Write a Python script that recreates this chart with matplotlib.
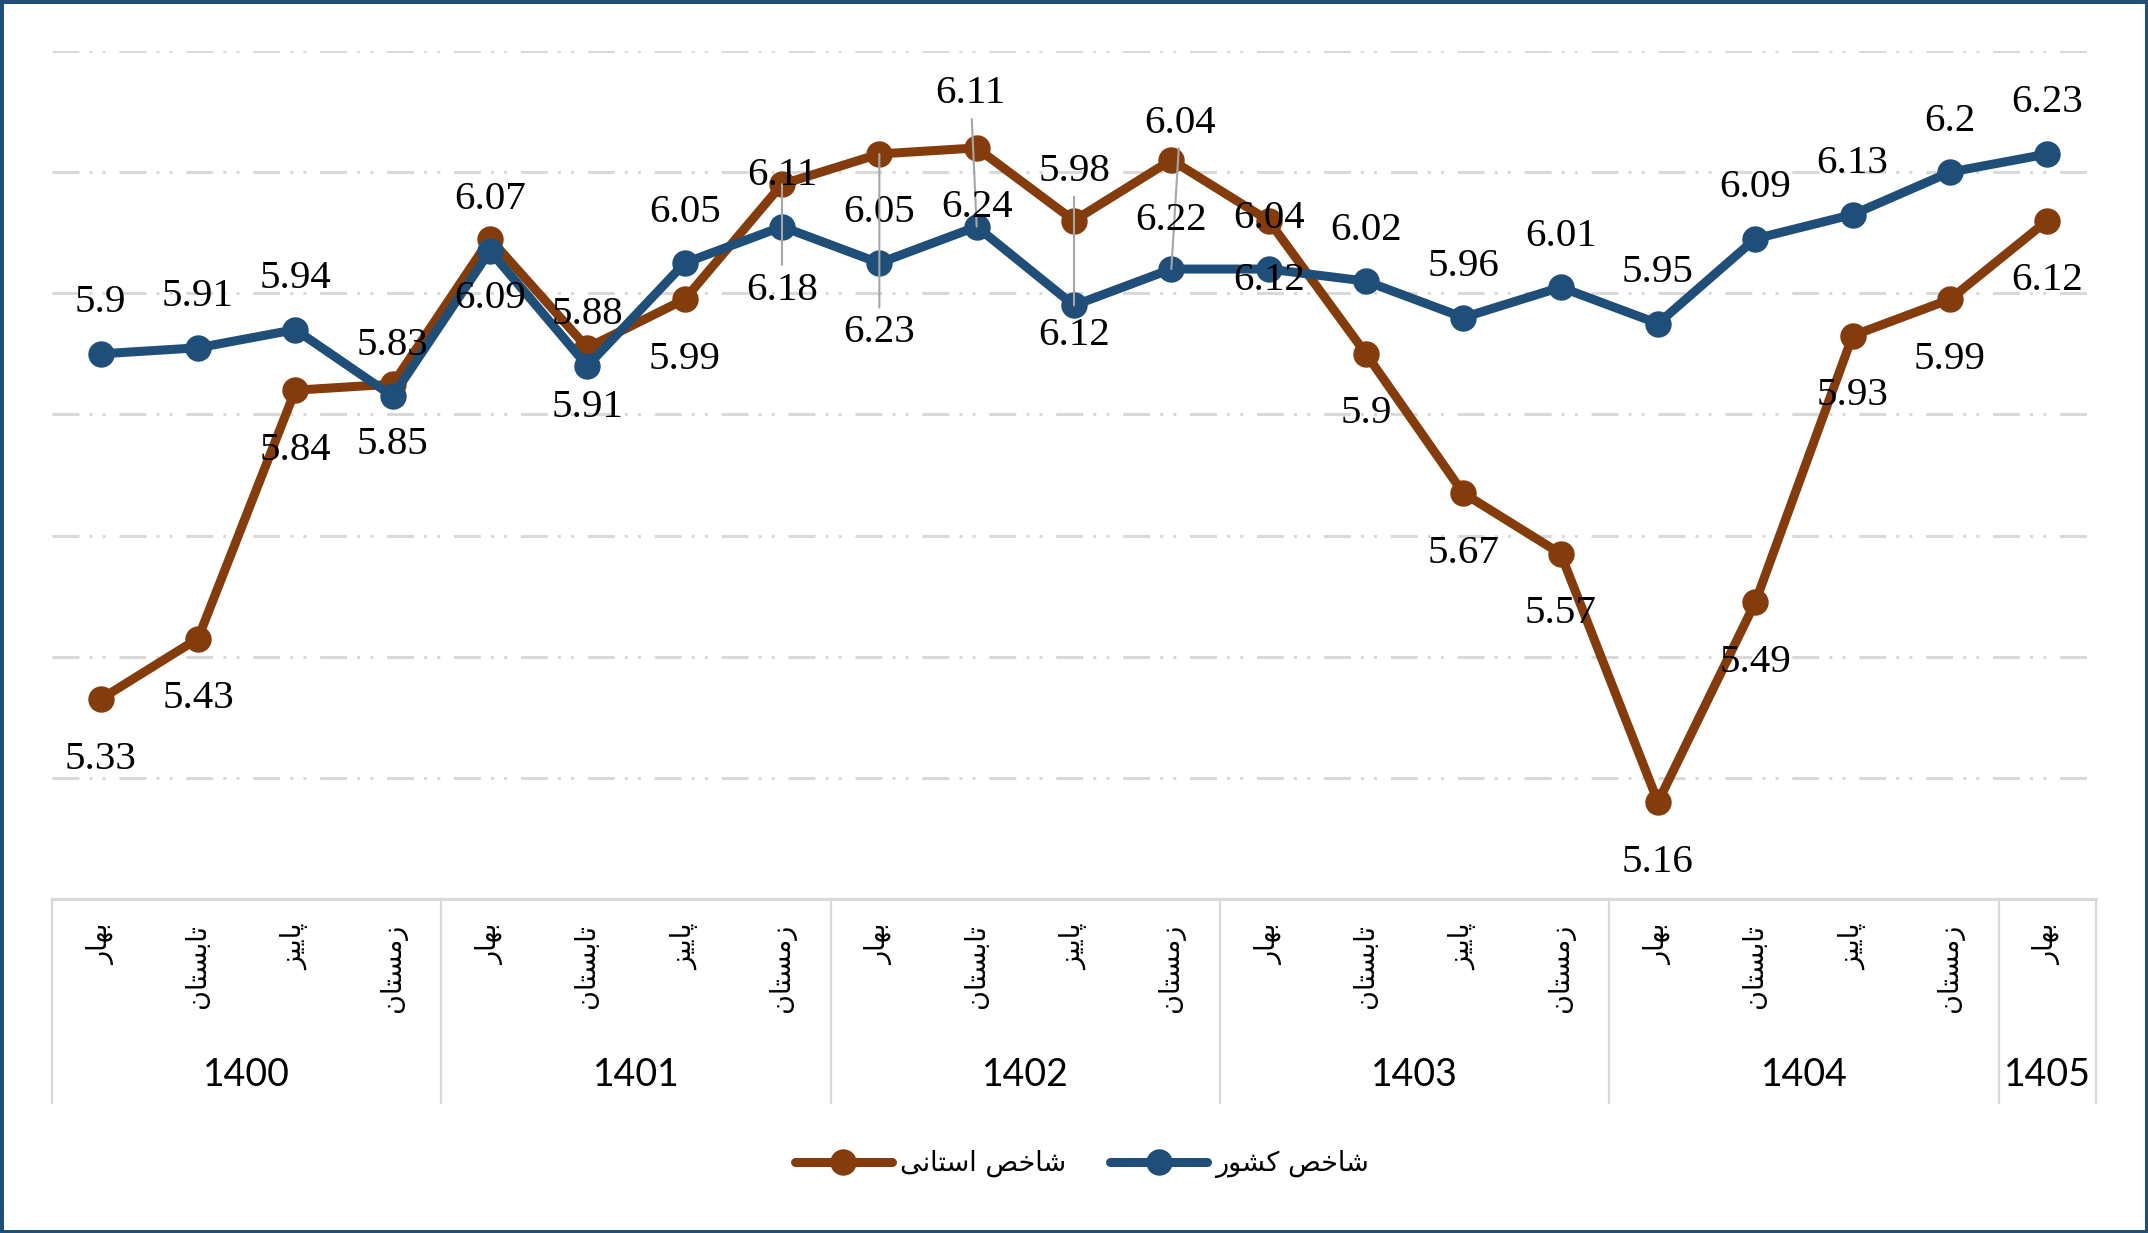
import numpy as np
import matplotlib
matplotlib.use('Agg')
import matplotlib.pyplot as plt
from matplotlib.patches import Rectangle
from matplotlib.transforms import blended_transform_factory

# --- data -----------------------------------------------------------------
seasons = ['بهار', 'تابستان', 'پاییز', 'زمستان']
years = ['1400', '1401', '1402', '1403', '1404', '1405']
season_labels = seasons * 5 + ['بهار']
year_centers = [1.5, 5.5, 9.5, 13.5, 17.5, 20]
year_edges = [-0.5, 3.5, 7.5, 11.5, 15.5, 19.5, 20.5]

shakhes_keshvar = [5.9, 5.91, 5.94, 5.83, 6.07, 5.88, 6.05, 6.11, 6.05, 6.11, 5.98,
                   6.04, 6.04, 6.02, 5.96, 6.01, 5.95, 6.09, 6.13, 6.2, 6.23]
shakhes_ostani = [5.33, 5.43, 5.84, 5.85, 6.09, 5.91, 5.99, 6.18, 6.23, 6.24, 6.12,
                  6.22, 6.12, 5.9, 5.67, 5.57, 5.16, 5.49, 5.93, 5.99, 6.12]

legend_ostani = 'شاخص استانی'
legend_keshvar = 'شاخص کشور'

# label offsets in pixels (dx, dy), dy positive = downwards
off_keshvar = {9: (-6, -133), 10: (0, -134), 11: (9, -146)}
off_ostani = {7: (0, 106), 8: (0, 179), 10: (0, 115)}
leader_keshvar = [9, 10, 11]
leader_ostani = [7, 8]

# --- persian shaping (matplotlib has no complex text layout) ---------------
FORMS = {
    'ا': ('\uFE8D', '\uFE8E', None, None),
    'ب': ('\uFE8F', '\uFE90', '\uFE91', '\uFE92'),
    'پ': ('\uFB56', '\uFB57', '\uFB58', '\uFB59'),
    'ت': ('\uFE95', '\uFE96', '\uFE97', '\uFE98'),
    'خ': ('\uFEA5', '\uFEA6', '\uFEA7', '\uFEA8'),
    'ر': ('\uFEAD', '\uFEAE', None, None),
    'ز': ('\uFEAF', '\uFEB0', None, None),
    'س': ('\uFEB1', '\uFEB2', '\uFEB3', '\uFEB4'),
    'ش': ('\uFEB5', '\uFEB6', '\uFEB7', '\uFEB8'),
    'ص': ('\uFEB9', '\uFEBA', '\uFEBB', '\uFEBC'),
    'ک': ('\uFB8E', '\uFB8F', '\uFB90', '\uFB91'),
    'م': ('\uFEE1', '\uFEE2', '\uFEE3', '\uFEE4'),
    'ن': ('\uFEE5', '\uFEE6', '\uFEE7', '\uFEE8'),
    'ه': ('\uFEE9', '\uFEEA', '\uFEEB', '\uFEEC'),
    'و': ('\uFEED', '\uFEEE', None, None),
    'ی': ('\uFBFC', '\uFBFD', '\uFBFE', '\uFBFF'),
}


def shape(txt):
    out = []
    for i, c in enumerate(txt):
        if c not in FORMS:
            out.append(c)
            continue
        prev = txt[i - 1] if i > 0 else ''
        nxt = txt[i + 1] if i < len(txt) - 1 else ''
        j_prev = prev in FORMS and FORMS[prev][2] is not None
        j_next = FORMS[c][2] is not None and nxt in FORMS
        if j_prev and j_next:
            out.append(FORMS[c][3])
        elif j_prev:
            out.append(FORMS[c][1])
        elif j_next:
            out.append(FORMS[c][2])
        else:
            out.append(FORMS[c][0])
    return ''.join(out[::-1])


# --- figure ----------------------------------------------------------------
W, H = 2148, 1233
fig = plt.figure(figsize=(W / 100, H / 100), dpi=100)
ax = fig.add_axes([52 / W, (H - 899) / H, 2044 / W, 848 / H])

c_ost = '#843C0C'
c_kes = '#1F4E79'
x = np.arange(len(shakhes_keshvar))

l_ost, = ax.plot(x, shakhes_ostani, color=c_ost, lw=6.5, marker='o', ms=18,
                 zorder=3, solid_capstyle='round')
l_kes, = ax.plot(x, shakhes_keshvar, color=c_kes, lw=6.5, marker='o', ms=18,
                 zorder=4, solid_capstyle='round')

ax.set_xlim(-0.5, 20.5)
ax.set_ylim(5.0, 6.4)
ax.set_yticks(np.arange(5.2, 6.41, 0.2))
ax.yaxis.grid(True, color='#D9D9D9', lw=2.2, linestyle=(0, (8.8, 3.3, 1, 3.3, 1, 4.5)))
ax.tick_params(axis='y', length=0, labelleft=False)
for s in ['left', 'right', 'top']:
    ax.spines[s].set_visible(False)
ax.spines['bottom'].set_color('#D9D9D9')
ax.spines['bottom'].set_linewidth(2.2)

# season tick labels
ax.set_xticks(x)
ax.set_xticklabels([shape(s) for s in season_labels], rotation=90, va='top',
                   fontsize=19.5, family='DejaVu Sans')
ax.tick_params(axis='x', length=0, pad=18)

# year labels and separators
trans = blended_transform_factory(ax.transData, ax.transAxes)
for xc, yr in zip(year_centers, years):
    ax.text(xc, -0.2075, yr, transform=trans, ha='center', va='center',
            fontsize=27, family='Lato')
for xe in year_edges:
    ax.plot([xe, xe], [0, -0.2406], transform=trans, color='#D9D9D9', lw=1.6,
            clip_on=False)

# data labels
for i, v in enumerate(shakhes_keshvar):
    dx, dy = off_keshvar.get(i, (0, -51))
    ap = None
    if i in leader_keshvar:
        ap = dict(arrowstyle='-', color='#A6A6A6', lw=1.5, shrinkA=3, shrinkB=0)
    ax.annotate(f'{v:g}', (i, v), xytext=(dx, -dy), textcoords='offset pixels',
                ha='center', va='center', fontsize=29.5, family='Liberation Serif',
                arrowprops=ap, zorder=6)
for i, v in enumerate(shakhes_ostani):
    dx, dy = off_ostani.get(i, (0, 60))
    ap = None
    if i in leader_ostani:
        ap = dict(arrowstyle='-', color='#A6A6A6', lw=1.5, shrinkA=3, shrinkB=0)
    ax.annotate(f'{v:g}', (i, v), xytext=(dx, -dy), textcoords='offset pixels',
                ha='center', va='center', fontsize=29.5, family='Liberation Serif',
                arrowprops=ap, zorder=6)

fig.legend([l_ost, l_kes], [shape(legend_ostani), shape(legend_keshvar)],
           loc='center', bbox_to_anchor=(0.5037, 1 - 1164 / H), ncol=2,
           frameon=False, prop={'family': 'DejaVu Sans', 'size': 19.5},
           handlelength=3.6, handletextpad=0.3, columnspacing=1.6)

fig.patches.append(Rectangle((0, 0), 1, 1, transform=fig.transFigure, fill=False,
                             edgecolor='#1F4E79', lw=5))

fig.savefig('out.png', dpi=100)
